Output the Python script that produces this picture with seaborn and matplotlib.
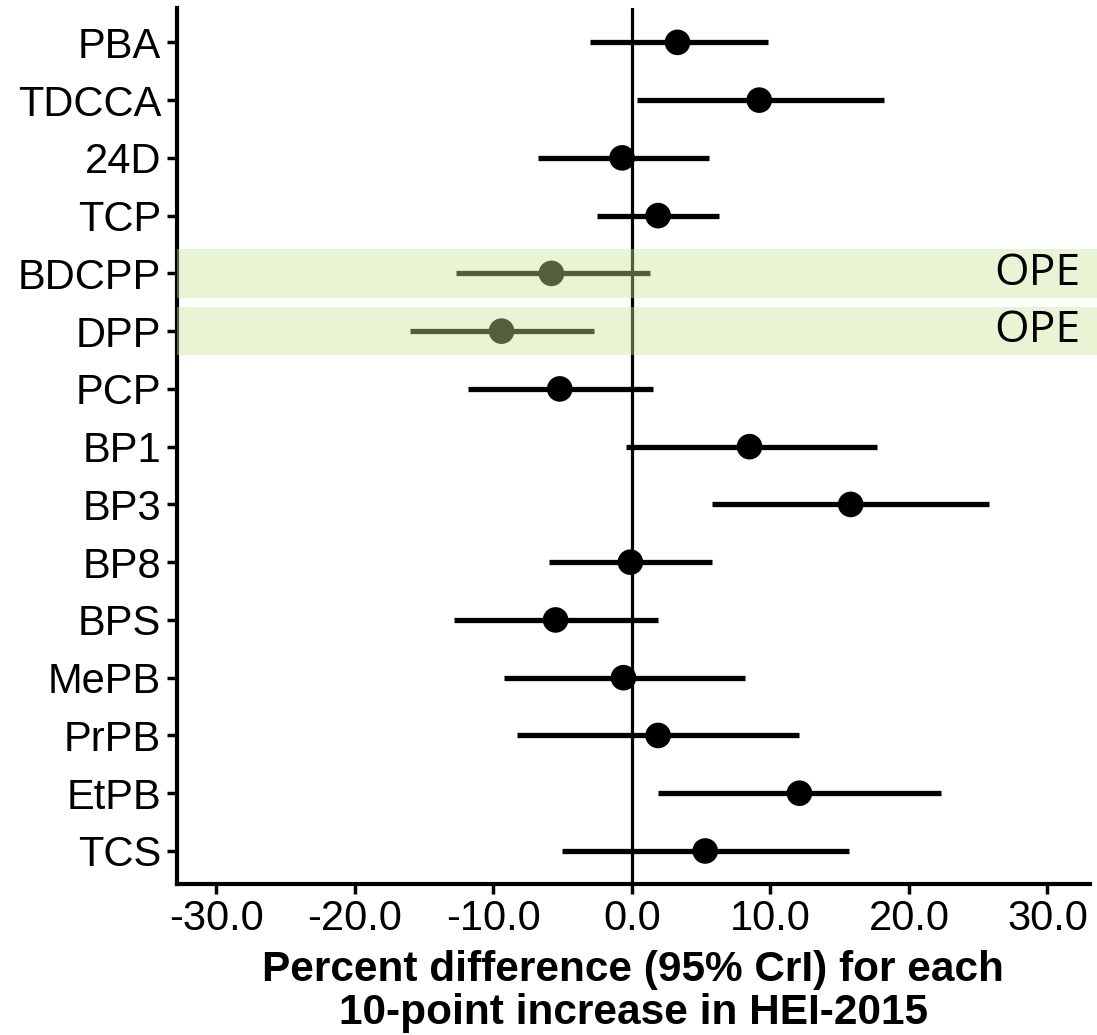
import numpy as np
import pandas as pd
import matplotlib
matplotlib.use('Agg')
import matplotlib.pyplot as plt
import seaborn as sns

# chemicals, top to bottom
labels = ['PBA', 'TDCCA', '24D', 'TCP', 'BDCPP', 'DPP', 'PCP', 'BP1', 'BP3',
          'BP8', 'BPS', 'MePB', 'PrPB', 'EtPB', 'TCS']
estimate = [3.3, 9.2, -0.7, 1.9, -5.8, -9.4, -5.2, 8.5, 15.8,
            -0.1, -5.5, -0.6, 1.9, 12.1, 5.3]
lower = [-3.0, 0.4, -6.8, -2.5, -12.7, -16.0, -11.8, -0.4, 5.8,
         -6.0, -12.8, -9.2, -8.3, 1.9, -5.0]
upper = [9.8, 18.2, 5.6, 6.3, 1.3, -2.7, 1.5, 17.7, 25.8,
         5.8, 1.9, 8.2, 12.1, 22.3, 15.7]
highlight = ['BDCPP', 'DPP']
highlight_text = 'OPE'
xticks = [-30, -20, -10, 0, 10, 20, 30]

df = pd.DataFrame({'chem': labels, 'est': estimate, 'lo': lower, 'hi': upper})

sns.set_style('ticks')
plt.rcParams['font.family'] = ['Liberation Sans', 'DejaVu Sans']

fig = plt.figure(figsize=(10.97, 10.35), dpi=100)
ax = fig.add_axes([0.161, 0.146, 0.8326, 0.846])

pos = np.arange(len(df))
ax.axvline(0, color='black', lw=2.3, zorder=1)
ax.hlines(pos, df['lo'], df['hi'], color='black', lw=3.8, zorder=2)
sns.scatterplot(data=df, x='est', y='chem', color='black', s=340,
                edgecolor='none', ax=ax, zorder=3)

# translucent bands over the OPE metabolites
for name in highlight:
    i = labels.index(name)
    ax.add_patch(plt.Rectangle((0, i - 0.42), 1.01, 0.84,
                               transform=ax.get_yaxis_transform(),
                               facecolor='#c9e698', alpha=0.41,
                               edgecolor='none', zorder=4, clip_on=False))
    ax.text(0.989, i, highlight_text, transform=ax.get_yaxis_transform(),
            ha='right', va='center', fontsize=32, family='Open Sans',
            color='black', zorder=5)

ax.set_xlim(-32.85, 33.07)
ax.set_ylim(len(labels) - 0.43, -0.59)
ax.set_xticks(xticks)
ax.set_xticklabels([f'{v:.1f}' for v in xticks])
ax.set_ylabel('')
ax.set_xlabel('Percent difference (95% CrI) for each\n10-point increase in HEI-2015',
              fontsize=30.5, fontweight='bold', linespacing=1.1, labelpad=8,
              color='black')
ax.tick_params(axis='both', labelsize=30, width=2.5, length=7, color='black',
               labelcolor='black', pad=4)
for side in ['left', 'bottom']:
    ax.spines[side].set_linewidth(3)
    ax.spines[side].set_color('black')
sns.despine(ax=ax)

fig.savefig('out.png', dpi=100)
